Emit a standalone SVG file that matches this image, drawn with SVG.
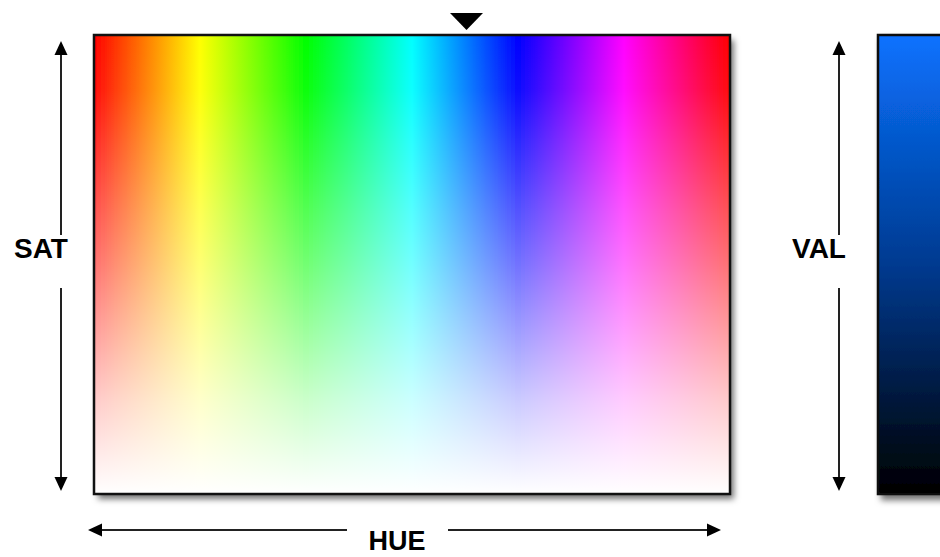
<svg xmlns="http://www.w3.org/2000/svg" width="940" height="557" viewBox="0 0 940 557">
  <style>
    .lbl { font-family: "Liberation Sans", Arial, sans-serif; font-weight: bold; font-size: 28px; fill: #000; }
    .axis { stroke: #222; stroke-width: 2; fill: none; }
    .head { fill: #000; }
    .frame { stroke: #111; stroke-width: 2.5; }
  </style>
  <defs>
    <linearGradient id="hue" x1="0" y1="0" x2="1" y2="0">
      <stop offset="0" stop-color="#ff0000"/>
      <stop offset="0.1667" stop-color="#ffff00"/>
      <stop offset="0.3333" stop-color="#00ff00"/>
      <stop offset="0.5" stop-color="#00ffff"/>
      <stop offset="0.6667" stop-color="#0000ff"/>
      <stop offset="0.8333" stop-color="#ff00ff"/>
      <stop offset="1" stop-color="#ff0000"/>
    </linearGradient>
    <linearGradient id="sat" x1="0" y1="0" x2="0" y2="1">
      <stop offset="0" stop-color="#fff" stop-opacity="0"/>
      <stop offset="0.12" stop-color="#fff" stop-opacity="0.05"/>
      <stop offset="0.5" stop-color="#fff" stop-opacity="0.45"/>
      <stop offset="0.8" stop-color="#fff" stop-opacity="0.8"/>
      <stop offset="1" stop-color="#fff" stop-opacity="1"/>
    </linearGradient>
    <linearGradient id="val" x1="0" y1="0" x2="0" y2="1">
      <stop offset="0" stop-color="#0a72ff"/>
      <stop offset="0.5" stop-color="#003a90"/>
      <stop offset="1" stop-color="#000000"/>
    </linearGradient>
    <filter id="shadow" x="-5%" y="-5%" width="115%" height="115%">
      <feDropShadow dx="4" dy="5" stdDeviation="3" flood-color="#000" flood-opacity="0.55"/>
    </filter>
  </defs>

  <g id="hue-sat-field">
    <g filter="url(#shadow)">
      <rect x="94" y="35" width="636" height="459" fill="url(#hue)"/>
    </g>
    <rect x="94" y="35" width="636" height="459" fill="url(#sat)" class="frame"/>
  </g>

  <g id="value-bar">
    <rect x="878" y="35" width="80" height="459" fill="url(#val)" class="frame" filter="url(#shadow)"/>
  </g>

  <g id="marker">
    <polygon points="450,13 483,13 466.5,30" class="head"/>
  </g>

  <g id="connectors">
    <line x1="61" y1="52" x2="61" y2="235" class="axis"/>
    <line x1="61" y1="288" x2="61" y2="480" class="axis"/>
    <polygon points="61,41 54.5,55 67.5,55" class="head"/>
    <polygon points="61,491 54.5,477 67.5,477" class="head"/>

    <line x1="839" y1="52" x2="839" y2="235" class="axis"/>
    <line x1="839" y1="288" x2="839" y2="480" class="axis"/>
    <polygon points="839,41 832.5,55 845.5,55" class="head"/>
    <polygon points="839,491 832.5,477 845.5,477" class="head"/>

    <line x1="98" y1="530" x2="347" y2="530" class="axis"/>
    <line x1="448" y1="530" x2="710" y2="530" class="axis"/>
    <polygon points="88,530 102,523.5 102,536.5" class="head"/>
    <polygon points="721,530 707,523.5 707,536.5" class="head"/>
  </g>

  <g id="labels">
    <text x="41" y="258" text-anchor="middle" class="lbl">SAT</text>
    <text x="819" y="258" text-anchor="middle" class="lbl">VAL</text>
    <text x="397" y="550" text-anchor="middle" class="lbl" style="font-size:27px">HUE</text>
  </g>
</svg>
